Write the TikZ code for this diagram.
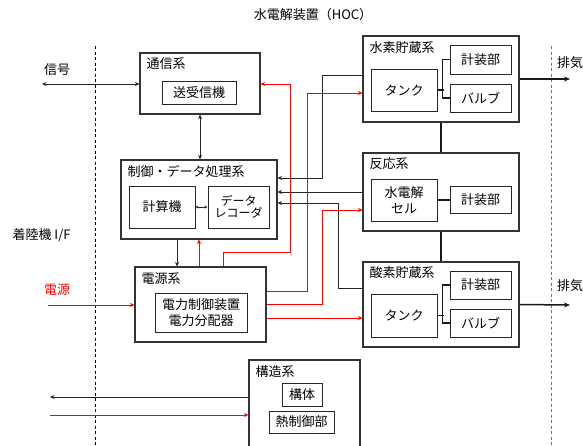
\documentclass[tikz,border=0pt]{standalone}
\usepackage{fontspec}
\setmainfont{Noto Sans CJK JP}
\usetikzlibrary{arrows.meta}

\begin{document}
\begin{tikzpicture}[x=1pt,y=-1pt,
        font=\fontsize{13}{16}\selectfont,
        >={Stealth[length=4.5pt,width=4pt]},
        sysbox/.style 2 args={draw=black!80,line width=1.1pt,minimum width=#1pt,minimum height=#2pt,inner sep=0pt},
        subbox/.style 2 args={draw=black!85,line width=1pt,minimum width=#1pt,minimum height=#2pt,inner sep=0pt,align=center},
        ttl/.style={anchor=west,inner sep=0pt},
        sg/.style={line width=.9pt,black!85},
        pw/.style={line width=.9pt,red},
        thk/.style={line width=1.8pt,black!90},
    ]
    \clip (0,0) rectangle (583,445);

    % interfaces
    \draw[dashed,line width=.8pt,dash pattern=on 3pt off 2.5pt] (95,46)--(95,445);
    \draw[dashed,line width=.8pt,dash pattern=on 3pt off 2.5pt,black!55] (551,46)--(551,445);
    \node (hoc) at (313,15) {水電解装置（HOC）};
    \node (sig) at (57,70) {信号};
    \node[anchor=west] (lif) at (9,235) {着陸機 I/F};
    \node[red] (pwr) at (57,290) {電源};
    \node[anchor=west,inner sep=1pt] (ex1t) at (556,63) {排気};
    \node[anchor=west,inner sep=1pt] (ex2t) at (556,286) {排気};
    \coordinate (sigL) at (42,84);
    \coordinate (pwrL) at (48,305);
    \coordinate (kzL) at (50,397);
    \coordinate (kzR) at (50,415);
    \coordinate (ex1) at (570,79);
    \coordinate (ex2) at (570,305);

    % subsystems
    \node[sysbox={120}{61}] (tsushin) at (200,83.5) {};
    \node[ttl] (tsushinT) at ([xshift=7pt,yshift=-11.5pt]tsushin.north west) {通信系};
    \node[subbox={74}{23}] (soju) at (199,92.5) {送受信機};

    \node[sysbox={156}{79}] (seigyo) at (199,199.5) {};
    \node[ttl] (seigyoT) at ([xshift=7pt,yshift=-12pt]seigyo.north west) {制御・データ処理系};
    \node[subbox={66}{42}] (keisan) at (162,207) {計算機};
    \node[subbox={61}{42},font=\fontsize{12}{12}\selectfont] (rec) at (238.5,207) {データ\\レコーダ};

    \node[sysbox={131}{75}] (dengen) at (200.5,304.5) {};
    \node[ttl] (dengenT) at ([xshift=7pt,yshift=-12pt]dengen.north west) {電源系};
    \node[subbox={92}{39}] (dctl) at (201,312.5) {電力制御装置\\電力分配器};

    \node[sysbox={156}{86}] (suiso) at (441,79) {};
    \node[ttl] (suisoT) at ([xshift=7pt,yshift=-12pt]suiso.north west) {水素貯蔵系};
    \node[subbox={66}{42}] (tank1) at (404,90) {タンク};
    \node[subbox={61}{29}] (keiso1) at (480.5,59.5) {計装部};
    \node[subbox={61}{28}] (valve1) at (480.5,98) {バルブ};

    \node[sysbox={156}{78}] (hanno) at (441,192) {};
    \node[ttl] (hannoT) at ([xshift=7pt,yshift=-11.5pt]hanno.north west) {反応系};
    \node[subbox={66}{42}] (cell) at (404,200) {水電解\\セル};
    \node[subbox={61}{27}] (keiso2) at (480.5,199.5) {計装部};

    \node[sysbox={156}{85}] (sanso) at (441,304.5) {};
    \node[ttl] (sansoT) at ([xshift=7pt,yshift=-11.5pt]sanso.north west) {酸素貯蔵系};
    \node[subbox={66}{43}] (tank2) at (404,315.5) {タンク};
    \node[subbox={61}{28}] (keiso3) at (480.5,285) {計装部};
    \node[subbox={61}{28}] (valve2) at (480.5,323) {バルブ};

    \node[sysbox={111}{100}] (kozo) at (304.5,410) {};
    \node[ttl] (kozoT) at ([xshift=7pt,yshift=-12pt]kozo.north west) {構造系};
    \node[subbox={40}{23}] (kotai) at (302,394.5) {構体};
    \node[subbox={65}{22}] (netsu) at (301.5,422) {熱制御部};

    % signal lines
    \draw[sg,<->] (sigL) -- (sigL -| tsushin.west);
    \draw[sg,<->] (tsushin.south) -- (tsushin.south |- seigyo.north);
    \draw[sg,<->,line width=.6pt,>={Stealth[length=3pt,width=3pt]}] (keisan.east) -- (rec.west);
    \draw[sg,->] (seigyo.south -| 177,0) -- (dengen.north -| 177,0);
    \draw[sg,->] (suiso.west |- 0,75) -| (322,178) -- (seigyo.east |- 0,178);
    \draw[sg,->] (hanno.west) -- (hanno.west -| seigyo.east);
    \draw[sg,->] (sanso.west |- 0,288) -| (338,203) -- (seigyo.east |- 0,203);
    \draw[sg,->] (kozo.west |- kzL) -- (kzL);

    % power lines
    \draw[pw,->] (pwrL) -- (pwrL -| dengen.west);
    \draw[pw,->] (dengen.north -| seigyo.south) -- (seigyo.south);
    \draw[pw,->] (dengen.north -| 223,0) |- (290,252) |- (tsushin.east |- 0,84);
    \draw[pw,->] (dengen.east |- 0,291) -| (307,93) -- (suiso.west |- 0,93);
    \draw[pw,->] (dengen.east |- 0,304) -| (322,210) -- (hanno.west |- 0,210);
    \draw[pw,->] (dengen.east |- 0,318) -- (sanso.west |- 0,318);
    \draw[pw,->] (kzR) -- (kzR -| kozo.west);

    % fluid links
    \draw[thk] (tank1.east) -- ++(6,0);
    \draw[thk] (keiso1.west) -- ++(-7,0) |- (valve1.west);
    \draw[thk] (cell.east) -- (cell.east -| keiso2.west);
    \draw[thk] (tank2.east) -- ++(6,0);
    \draw[thk] (keiso3.west) -- ++(-7,0) |- (valve2.west);
    \draw[thk] (suiso.south) -- (hanno.north);
    \draw[thk] (hanno.south) -- (sanso.north);
    \draw[thk,->,>={Stealth[length=6pt,width=5pt]},line width=1.5pt] (suiso.east) -- (ex1);
    \draw[thk,->,>={Stealth[length=6pt,width=5pt]},line width=1.5pt] (sanso.east) -- (ex2);
\end{tikzpicture}
\end{document}
